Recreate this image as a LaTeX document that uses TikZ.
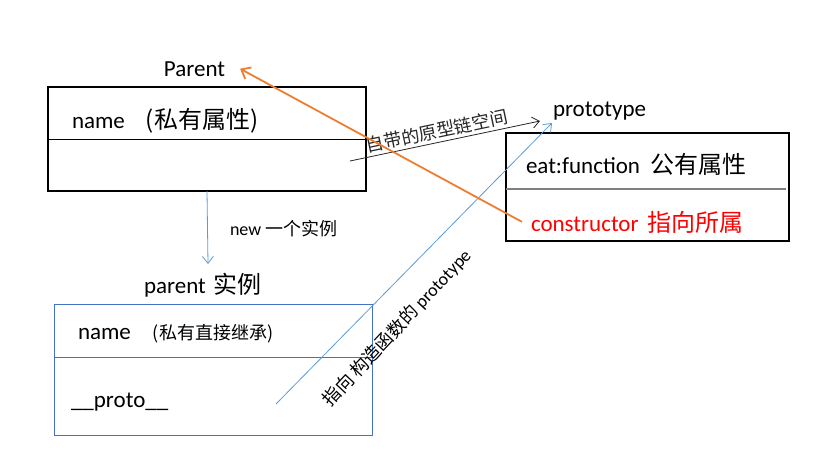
\documentclass[tikz,border=0pt]{standalone}
\usepackage{fontspec}
\setmainfont{Carlito}
\newfontfamily\cjk{Noto Sans CJK SC}
\usetikzlibrary{arrows,arrows.meta}
\definecolor{boxblue}{HTML}{4472C4}
\definecolor{lineblue}{HTML}{5B9BD5}
\definecolor{linkorange}{HTML}{ED7D31}
\definecolor{divgray}{HTML}{7F7F7F}
\newcommand{\bigcjk}{\cjk\fontsize{24}{28}\selectfont}
\tikzset{
    bigtext/.style={font=\fontsize{23}{27}\selectfont},
    smalltext/.style={font=\fontsize{18}{22}\selectfont},
    clsbox/.style={draw, line width=1.2pt, fill=none},
    barb/.style={-{Straight Barb[length=7pt,width=11pt]}}
}
\begin{document}
\begin{tikzpicture}[x=1pt, y=-1pt]
    \tikzstyle{every node}=[inner sep=0pt, outer sep=0pt];
    \useasboundingbox (0,0) rectangle (817,450);
    % boxes
    \node[clsbox, minimum width=318pt, minimum height=104pt] (parentBox) at (207,139) {};
    \node[clsbox, draw=boxblue, line width=1pt, minimum width=318pt, minimum height=131pt] (instBox) at (213,369.5) {};
    \node[clsbox, minimum width=283pt, minimum height=108pt] (protoBox) at (647.5,187) {};
    \draw[line width=1pt] (parentBox.west) -- (parentBox.east);
    \draw[line width=1pt, boxblue] ([yshift=-53pt]instBox.north west) -- ([yshift=-53pt]instBox.north east);
    \draw[line width=1.2pt, divgray] ([yshift=-56pt]protoBox.north west) -- ([xshift=-3pt,yshift=-56pt]protoBox.north east);
    % texts
    \node[bigtext, anchor=base] (parentLabel) at (194.5,76) {Parent};
    \node[bigtext, anchor=base west] (parentName) at (72,128) {name\hspace{21pt}{\bigcjk (私有属性)}};
    \node[smalltext, anchor=base west] (newNote) at (230,235) {new {\cjk 一个实例}};
    \node[bigtext, anchor=base west] (instLabel) at (144,293) {parent\hspace{8pt}{\bigcjk 实例}};
    \node[bigtext, anchor=base west] (instName) at (78,339) {name\hspace{22pt}{\cjk\fontsize{18}{22}\selectfont (私有直接继承)}};
    \node[bigtext, anchor=base west] (instProto) at (71,407) {\_\_proto\_\_};
    \node[bigtext, anchor=base west] (protoLabel) at (553,116) {prototype};
    \node[bigtext, anchor=base west] (eatFn) at (526,173) {eat:function\hspace{10pt}{\bigcjk 公有属性}};
    \node[bigtext, anchor=base west, text=red] (ctor) at (531,231) {constructor\hspace{9pt}{\bigcjk 指向所属}};
    \node[smalltext, rotate=47] (protoNote) at (397,328) {{\cjk 指向 构造函数的} prototype};
    % connectors
    \coordinate (newEnd) at (208,264);
    \coordinate (chainStart) at (350,161);
    \coordinate (chainEnd) at (540,121);
    \coordinate (protoStart) at (276,404);
    \coordinate (protoEnd) at (552,123);
    \draw[lineblue, line width=0.8pt, barb] (parentBox.south) -- (newEnd);
    \draw[black!85, line width=0.8pt, barb] (chainStart) -- (chainEnd)
        node[smalltext, pos=0.47, above=3pt, sloped] (chainNote) {\cjk 自带的原型链空间};
    \draw[lineblue, line width=0.8pt, barb] (protoStart) -- (protoEnd);
    \draw[linkorange, line width=1.8pt, -{Straight Barb[length=8pt,width=13pt]}] ([xshift=-9pt]ctor.west) -- ([xshift=15pt]parentLabel.east);
\end{tikzpicture}
\end{document}
